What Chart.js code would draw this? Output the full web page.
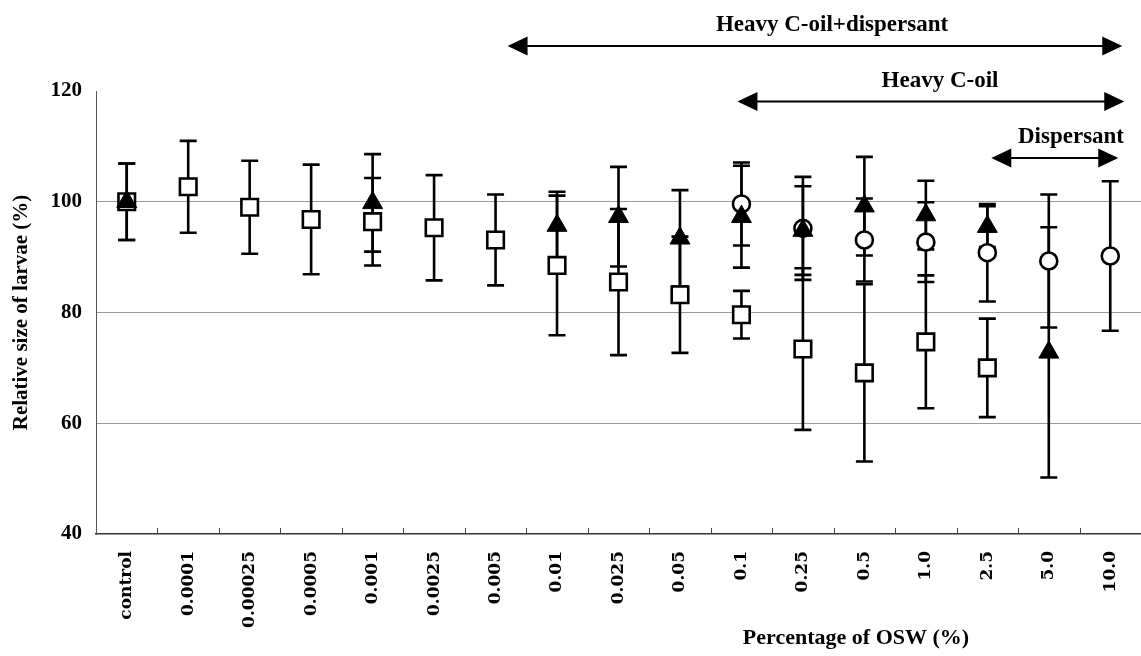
<!DOCTYPE html>
<html>
<head>
<meta charset="utf-8">
<script src="https://cdn.jsdelivr.net/npm/chart.js@4.4.1/dist/chart.umd.min.js"></script>
<style>
  html, body { margin: 0; padding: 0; background: #fff; overflow: hidden; }
  #wrap { width: 1141px; height: 656px; position: relative; }
  canvas { display: block; }
</style>
</head>
<body>
<div id="wrap"><canvas id="sizeChart"></canvas></div>
<script>
// OSW concentrations (%)
const concentrations = ['control', '0.0001', '0.00025', '0.0005', '0.001', '0.0025', '0.005', '0.01',
  '0.025', '0.05', '0.1', '0.25', '0.5', '1.0', '2.5', '5.0', '10.0'];

// filled triangles
const triangleMean = [100, null, null, null, 99.8, null, null, 95.7, 97.3, 93.4, 97.3, 94.8, 99.2, 97.6, 95.5, 72.8, null];
const triangleErr  = [6.9, null, null, null, 8.8, null, null, 6.1, 9.0, 8.7, 9.2, 8.0, 8.9, 6.2, 3.7, 22.6, null];

// open circles
const circleMean = [null, null, null, null, null, null, null, null, null, null, 99.6, 95.2, 93.1, 92.7, 90.8, 89.3, 90.2];
const circleErr  = [null, null, null, null, null, null, null, null, null, null, 7.5, 9.3, 7.5, 7.2, 8.8, 12.0, 13.5];

// open squares
const squareMean = [100, 102.7, 99.0, 96.8, 96.4, 95.3, 93.1, 88.5, 85.5, 83.2, 79.6, 73.4, 69.1, 74.7, 70.0, null, null];
const squareErr  = [6.9, 8.3, 8.4, 9.9, 7.9, 9.5, 8.2, 12.6, 13.2, 10.5, 4.3, 14.6, 16.0, 12.0, 8.9, null, null];

const yTicks = [40, 60, 80, 100, 120];

// treatment ranges shown as arrows above the plot
const rangeLabels = ['Heavy C-oil+dispersant', 'Heavy C-oil', 'Dispersant'];
const rangeFrom   = ['0.005', '0.1', '2.5'];
const rangeTo     = ['10.0', '10.0', '10.0'];

const serif = '"Liberation Serif", "Times New Roman", serif';

const errorBars = {
  id: 'errorBars',
  beforeDatasetsDraw(chart) {
    const ctx = chart.ctx, xs = chart.scales.x, ys = chart.scales.y;
    ctx.save();
    ctx.strokeStyle = '#000';
    ctx.lineWidth = 2.6;
    chart.data.datasets.forEach(ds => {
      ds.data.forEach((v, i) => {
        const e = ds.errors[i];
        if (v == null || e == null) return;
        const px = xs.getPixelForValue(i);
        const top = ys.getPixelForValue(v + e);
        const bot = ys.getPixelForValue(v - e);
        ctx.beginPath();
        ctx.moveTo(px, top); ctx.lineTo(px, bot);
        ctx.moveTo(px - 8.5, top); ctx.lineTo(px + 8.5, top);
        ctx.moveTo(px - 8.5, bot); ctx.lineTo(px + 8.5, bot);
        ctx.stroke();
      });
    });
    ctx.restore();
  }
};

function arrow(ctx, x1, x2, y) {
  const len = 20, half = 9.5;
  ctx.beginPath();
  ctx.moveTo(x1 + len - 2, y); ctx.lineTo(x2 - len + 2, y);
  ctx.stroke();
  ctx.beginPath();
  ctx.moveTo(x1, y); ctx.lineTo(x1 + len, y - half); ctx.lineTo(x1 + len, y + half); ctx.closePath();
  ctx.fill();
  ctx.beginPath();
  ctx.moveTo(x2, y); ctx.lineTo(x2 - len, y - half); ctx.lineTo(x2 - len, y + half); ctx.closePath();
  ctx.fill();
}

const extras = {
  id: 'extras',
  afterDraw(chart) {
    const ctx = chart.ctx, xs = chart.scales.x, area = chart.chartArea;
    ctx.save();
    // small inward ticks between categories
    ctx.strokeStyle = '#444';
    ctx.lineWidth = 1;
    const step = xs.getPixelForValue(1) - xs.getPixelForValue(0);
    for (let i = 0; i < concentrations.length - 1; i++) {
      const px = Math.round(xs.getPixelForValue(i) + step / 2) + 0.5;
      ctx.beginPath(); ctx.moveTo(px, area.bottom); ctx.lineTo(px, area.bottom - 6); ctx.stroke();
    }
    // x axis title
    ctx.fillStyle = '#000';
    ctx.font = 'bold 22px ' + serif;
    ctx.textAlign = 'center';
    ctx.textBaseline = 'alphabetic';
    ctx.fillText('Percentage of OSW (%)', 856, 644);
    // range arrows
    const arrowY = [46, 101.5, 158];
    const textX = [832, 940, 1071];
    const ends = [[12, 12], [-4, 14], [4, 8]];
    ctx.strokeStyle = '#000';
    ctx.lineWidth = 2;
    ctx.font = 'bold 23px ' + serif;
    rangeLabels.forEach((lab, k) => {
      const a = xs.getPixelForValue(concentrations.indexOf(rangeFrom[k])) + ends[k][0];
      const b = xs.getPixelForValue(concentrations.indexOf(rangeTo[k])) + ends[k][1];
      arrow(ctx, a, b, arrowY[k]);
      ctx.fillText(lab, textX[k], arrowY[k] - 15);
    });
    ctx.restore();
  }
};

const ctx = document.getElementById('sizeChart').getContext('2d');
const sizeChart = new Chart(ctx, {
  type: 'line',
  data: {
    labels: concentrations,
    datasets: [
      {
        label: 'triangles',
        data: triangleMean,
        errors: triangleErr,
        showLine: false,
        pointStyle: 'triangle',
        pointRadius: 11.5,
        pointBackgroundColor: '#000',
        pointBorderColor: '#000',
        pointBorderWidth: 1
      },
      {
        label: 'circles',
        data: circleMean,
        errors: circleErr,
        showLine: false,
        pointStyle: 'circle',
        pointRadius: 8.5,
        pointBackgroundColor: '#fff',
        pointBorderColor: '#000',
        pointBorderWidth: 2.6
      },
      {
        label: 'squares',
        data: squareMean,
        errors: squareErr,
        showLine: false,
        pointStyle: 'rect',
        pointRadius: 11.7,
        pointBackgroundColor: '#fff',
        pointBorderColor: '#000',
        pointBorderWidth: 2.6
      }
    ]
  },
  options: {
    responsive: true,
    maintainAspectRatio: false,
    animation: false,
    layout: { autoPadding: false, padding: { top: 91, left: 0, right: 0, bottom: 0 } },
    plugins: { legend: { display: false }, tooltip: { enabled: false } },
    scales: {
      x: {
        offset: true,
        afterFit(scale) { scale.height = 122; scale.paddingLeft = 0; scale.paddingRight = 0; },
        grid: { display: false },
        border: { display: true, color: '#333', width: 1.5 },
        ticks: {
          autoSkip: false,
          minRotation: 90,
          maxRotation: 90,
          padding: 9,
          color: '#000',
          font: { family: '"DejaVu Serif", serif', weight: 'bold', size: 17 }
        }
      },
      y: {
        min: yTicks[0],
        max: yTicks[yTicks.length - 1],
        afterFit(scale) { scale.width = 96; },
        afterBuildTicks(scale) { scale.ticks = yTicks.map(v => ({ value: v })); },
        grid: {
          drawTicks: false,
          color: c => (c.tick && (c.tick.value === 120 || c.tick.value === 40)) ? 'rgba(0,0,0,0)' : '#9a9a9a',
          lineWidth: 1
        },
        border: { display: true, color: '#555', width: 1 },
        ticks: {
          padding: 14,
          color: '#000',
          font: { family: serif, weight: 'bold', size: 21 }
        },
        title: {
          display: true,
          text: 'Relative size of larvae (%)',
          color: '#000',
          padding: { top: 9, bottom: 0 },
          font: { family: serif, weight: 'bold', size: 21 }
        }
      }
    }
  },
  plugins: [errorBars, extras]
});
</script>
</body>
</html>
